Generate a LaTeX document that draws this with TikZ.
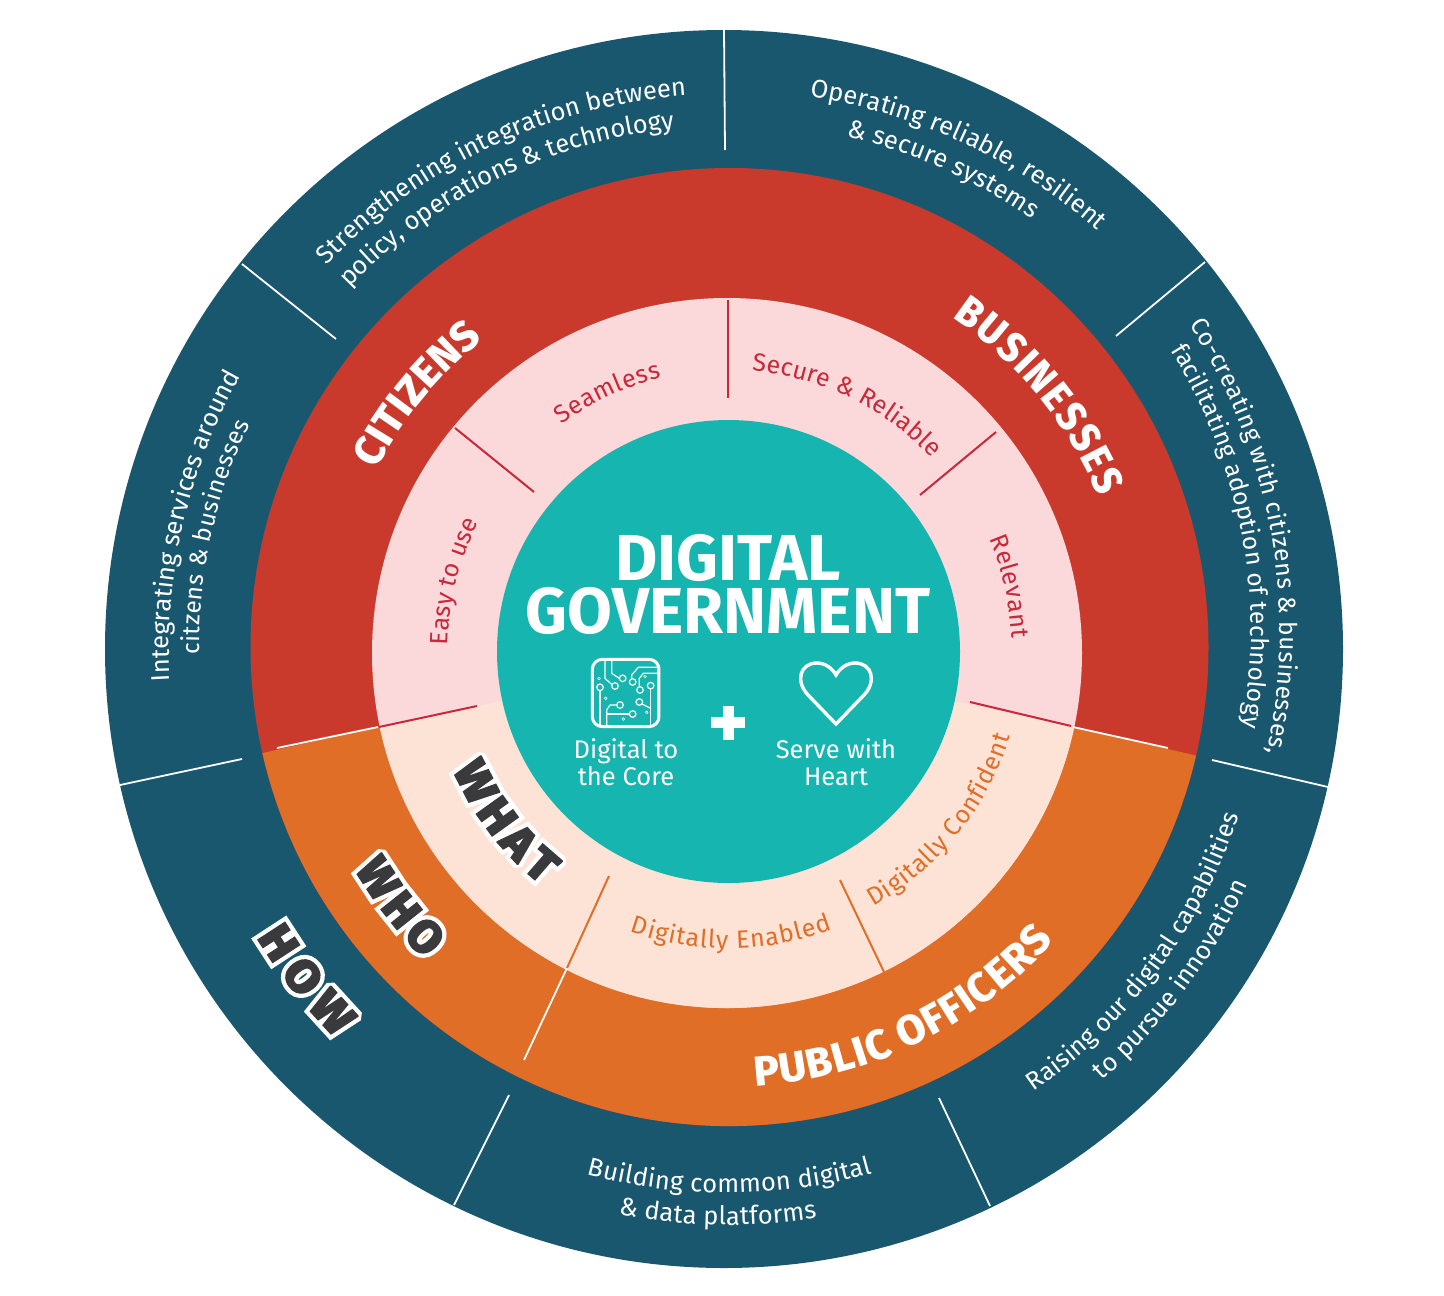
\documentclass[tikz,border=0pt]{standalone}
\usepackage{fontspec}
\usetikzlibrary{decorations.text}
\setmainfont{Fira Sans}
\newfontfamily\heavyfont{Fira Sans ExtraBold}
\newfontfamily\wideheavy[FakeStretch=1.05]{Fira Sans ExtraBold}
\newfontfamily\narrowheavy[FakeStretch=0.92]{Fira Sans ExtraBold}
\definecolor{ringblue}{HTML}{19576F}
\definecolor{ringred}{HTML}{CA3A2C}
\definecolor{ringorange}{HTML}{E16E27}
\definecolor{softpink}{HTML}{FBD8D9}
\definecolor{softpeach}{HTML}{FDE3D5}
\definecolor{coreteal}{HTML}{16B5B0}
\definecolor{inkdark}{HTML}{3A3A3C}
\definecolor{linered}{HTML}{C8283A}
% [#1 centre], #2 start angle, #3 end angle, #4 radius, #5 format, #6 text
\newcommand\arclabel[6][728,650]{%
  \path[decorate,decoration={text along path,text align={fit to path},text={|#5|#6}}]
    (#1) ++(#2:#4pt) arc[start angle=#2,end angle=#3,radius=#4pt];}
\newcommand\fmtwhite[1]{\fontsize{#1}{#1}\selectfont\color{white}}
\newcommand\fmtred{\fontsize{25}{25}\selectfont\color{linered}}
\newcommand\fmtorange{\fontsize{25}{25}\selectfont\color{ringorange}}
\newcommand\fmthalo[2]{#1\fontsize{#2}{#2}\selectfont\color{white}\special{pdf:code 2 Tr 10 w 0 j 1.5 M}}
\newcommand\fmtink[2]{#1\fontsize{#2}{#2}\selectfont\color{inkdark}\special{pdf:code 2 Tr 1.5 w 0 j 1.5 M}}
\newcommand\fmtheavy[1]{\heavyfont\fontsize{#1}{#1}\selectfont\color{white}}
\newcommand\fmtnarrow[1]{\narrowheavy\fontsize{#1}{#1}\selectfont\color{white}}
% #1 start, #2 end, #3 radius, #4 font family, #5 size, #6 text
\newcommand\halolabel[6]{%
  \begin{scope}
  \arclabel{#1}{#2}{#3}{\fmthalo{#4}{#5}}{#6}%
  \arclabel{#1}{#2}{#3}{\fmtink{#4}{#5}}{#6}%
  \end{scope}}
\tikzset{
  whiteline/.style={draw=white,line width=1.8pt},
  redline/.style={draw=linered,line width=2pt},
  orangeline/.style={draw=ringorange,line width=2pt},
  corelabel/.style={text=white,align=center,font=\fontsize{25.5}{27}\selectfont,inner sep=0pt},
  icontrace/.style={draw=white,line width=1.2pt},
}
\begin{document}
\begin{tikzpicture}[x=1pt,y=-1pt]
\useasboundingbox (0,0) rectangle (1444,1296);
\fill[white] (0,0) rectangle (1444,1296);
% discs
\fill[ringblue] (724,649) circle[radius=619pt];
\fill[ringred] (729.5,647) circle[radius=479pt];
\fill[ringorange] (729.5,647) -- ++(192.8:479pt) arc[start angle=192.8,end angle=346.9,radius=479pt] -- cycle;
\fill[softpink] (727,653) circle[radius=355pt];
\fill[softpeach] (727,653) -- ++(192:355pt) arc[start angle=192,end angle=348,radius=355pt] -- cycle;
\fill[coreteal] (728.5,651.5) circle[radius=231.5pt];
% outer dividers
\draw[whiteline] (724,30) -- (725,150);
\draw[whiteline] (242,264) -- (336,339);
\draw[whiteline] (120,785) -- (242,759);
\draw[whiteline] (454,1205) -- (509,1095);
\draw[whiteline] (939,1098) -- (990,1206);
\draw[whiteline] (1212,760) -- (1328,787);
\draw[whiteline] (1116,336) -- (1205,262);
% ring dividers
\draw[whiteline] (277,748) -- (378,727);
\draw[whiteline] (1073,727) -- (1168,748);
\draw[whiteline] (567,968) -- (524,1060);
% inner dividers
\draw[redline] (728,300) -- (728,398);
\draw[redline] (455,428) -- (534,492);
\draw[redline] (996,432) -- (920,495);
\draw[redline] (379,727) -- (477,706);
\draw[redline] (970,702) -- (1071,726);
\draw[orangeline] (609,876) -- (567,968);
\draw[orangeline] (840,880) -- (884,972);
% outer labels
\arclabel{136.2}{94.3}{556}{\fmtwhite{25.5}}{Strengthening integration between}
\arclabel{136.3}{95.9}{524}{\fmtwhite{25.5}}{policy, operations {\&} technology}
\arclabel{81.6}{48.6}{559}{\fmtwhite{25.5}}{Operating reliable, resilient}
\arclabel{77}{54.8}{527}{\fmtwhite{25.5}}{{\&} secure systems}
\arclabel[716,632]{33}{-12.35}{564}{\fmtwhite{24.5}}{Co-creating with citizens {\&} businesses,}
\arclabel[716,632]{31.8}{-10.2}{535}{\fmtwhite{24.5}}{facilitating adoption of technology}
\arclabel{-55.3}{-18}{537}{\fmtwhite{25}}{Raising our digital capabilities}
\arclabel{-49}{-24.3}{570}{\fmtwhite{25.5}}{to pursue innovation}
\arclabel{254.9}{285.4}{543}{\fmtwhite{25.5}}{Building common digital}
\arclabel{259}{278.9}{575}{\fmtwhite{25.5}}{{\&} data platforms}
\arclabel{183.2}{151}{559}{\fmtwhite{25.5}}{Integrating services around}
\arclabel{180.5}{154.7}{529}{\fmtwhite{24.3}}{citzens {\&} businesses}
% ring labels
\arclabel{152.8}{128.4}{395}{\fmtheavy{42}}{CITIZENS}
\arclabel{56}{22.4}{401}{\fmtnarrow{42}}{BUSINESSES}
\arclabel{273.6}{318.3}{437}{\fmtheavy{42}}{PUBLIC OFFICERS}
% inner labels
\arclabel{126.5}{103.6}{280}{\fmtred}{Seamless}
\arclabel{85.1}{43.3}{280}{\fmtred}{Secure {\&} Reliable}
\arclabel{179}{153.5}{280}{\fmtred}{Easy to use}
\arclabel{23.1}{2.4}{284}{\fmtred}{Relevant}
\arclabel{-60.5}{-17}{295}{\fmtorange}{Digitally Confident}
\arclabel{250.8}{290.4}{298.5}{\fmtorange}{Digitally Enabled}
% outlined labels
\halolabel{203.6}{231.6}{300}{\wideheavy}{46}{WHAT}
\halolabel{210.5}{225.5}{433}{\heavyfont}{46}{WHO}
\halolabel{211.4}{224.6}{552}{\wideheavy}{46}{HOW}
% centre
\node[text=white,font=\bfseries\fontsize{65}{53}\selectfont,align=center,inner sep=0pt] (title) at (728,584) {DIGITAL\\GOVERNMENT};
\node[corelabel] (digital) at (626,762) {Digital to\\the Core};
\node[corelabel] (serve) at (836,762) {Serve with\\Heart};
% plus
\fill[white] (711,717.3) rectangle (745,728.3);
\fill[white] (722.7,706) rectangle (734,740);
% heart
\draw[white,line width=3.4pt,line join=miter]
  (836,724) -- (808,695) .. controls (795,681) and (800,663) .. (817,663)
  .. controls (825,663) and (832,668) .. (836,675)
  .. controls (840,668) and (847,663) .. (855,663)
  .. controls (872,663) and (877,681) .. (864,695) -- cycle;
% chip icon
\begin{scope}[shift={(560,640)},x=0.3333pt,y=-0.3333pt]
\draw[white,line width=3pt] (97,58) [rounded corners=10pt] rectangle (297,260);
\foreach \cx/\cy in {120/142,165/138,188/115,218/126,240/150,272/137,238/186,180/195,218/222}
  \draw[icontrace] (\cx,\cy) circle[radius=3.3pt];
\foreach \cx/\cy in {117/115,137/175,255/110,260/217,190/237}
  \draw[draw=white,line width=0.6pt] (\cx,\cy) circle[radius=1.4pt];
\draw[icontrace] (135,60) -- (135,115) -- (156,134);
\draw[icontrace] (155,60) -- (155,100) -- (178,115);
\draw[icontrace] (120,152) -- (120,260);
\draw[icontrace] (297,82) -- (235,82) -- (215,105) -- (215,116);
\draw[icontrace] (297,100) -- (250,100) -- (238,115) -- (238,140);
\draw[icontrace] (272,147) -- (272,260);
\draw[icontrace] (246,192) -- (272,205);
\draw[icontrace] (170,195) -- (150,195) -- (140,210) -- (140,260);
\draw[icontrace] (208,222) -- (140,222);
\end{scope}
\end{tikzpicture}
\end{document}
